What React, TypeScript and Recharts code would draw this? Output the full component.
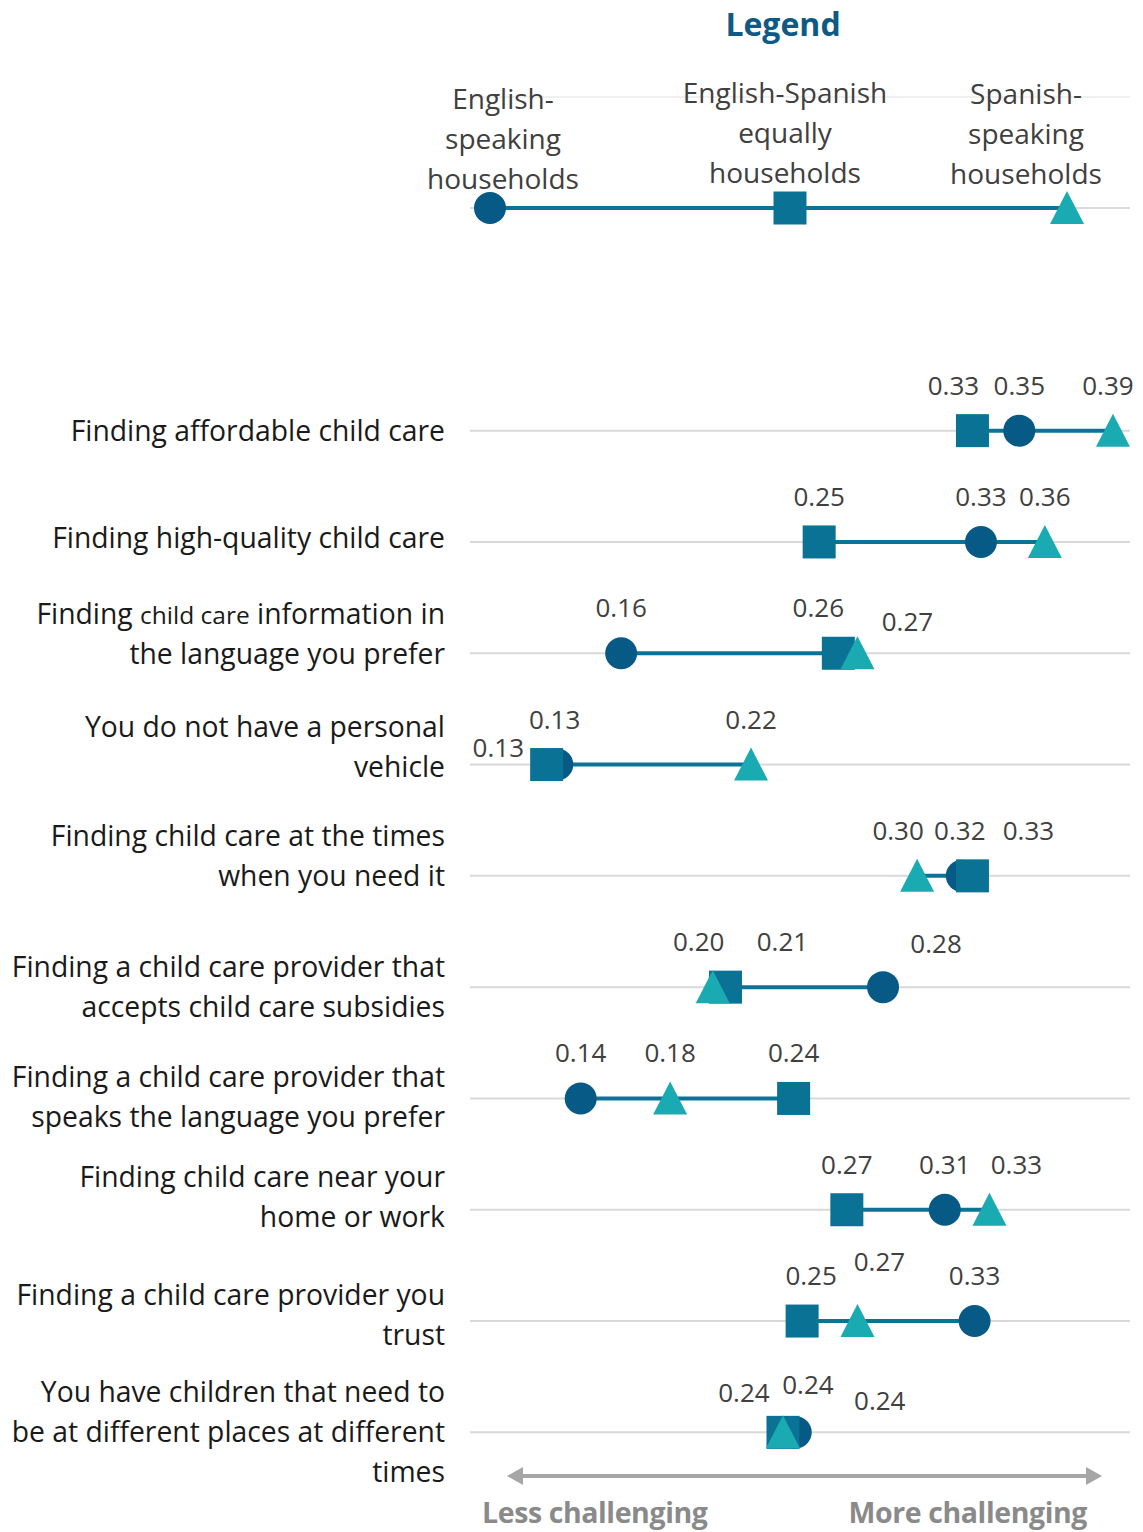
import React from "react";
import { ScatterChart, Scatter, XAxis, YAxis, CartesianGrid } from "recharts";

const CATEGORIES = [
  "Finding affordable child care",
  "Finding high-quality child care",
  "Finding {child care} information in\nthe language you prefer",
  "You do not have a personal\nvehicle",
  "Finding child care at the times\nwhen you need it",
  "Finding a child care provider that\naccepts child care subsidies",
  "Finding a child care provider that\nspeaks the language you prefer",
  "Finding child care near your\nhome or work",
  "Finding a child care provider you\ntrust",
  "You have children that need to\nbe at different places at different\ntimes",
];

const SERIES_NAMES = [
  "English-\nspeaking\nhouseholds",
  "English-Spanish\nequally\nhouseholds",
  "Spanish-\nspeaking\nhouseholds",
];

// share of respondents finding each item challenging
const ENGLISH = [0.348, 0.330, 0.161, 0.131, 0.321, 0.284, 0.142, 0.313, 0.327, 0.243];
const BILINGUAL = [0.326, 0.254, 0.263, 0.126, 0.326, 0.210, 0.242, 0.267, 0.246, 0.237];
const SPANISH = [0.392, 0.360, 0.272, 0.222, 0.300, 0.204, 0.184, 0.334, 0.272, 0.237];

const ROW_TICKS = [0, 1, 2, 3, 4, 5, 6, 7, 8, 9];
const AXIS_ENDS = ["Less challenging", "More challenging"];

const C_EN = "#065a85";
const C_BI = "#0a7395";
const C_SP = "#1aaab2";
const C_LINE = "#0d7396";
const FONT = '"Open Sans", sans-serif';

// label nudges [dx, dy] so overlapping values stay readable
const NUDGE_EN = [[0, 0], [0, 0], [0, 0], [-59, 28], [-2, 0], [53, 2], [0, 0], [0, 0], [0, 0], [84, 14]];
const NUDGE_BI = [[-19, 0], [0, 0], [-20, 0], [8, 0], [56, 0], [57, 0], [0, 0], [0, 0], [9, 0], [-39, 6]];
const NUDGE_SP = [[-5, 0], [0, 0], [50, 14], [0, 0], [-19, 0], [-14, 0], [0, 0], [27, 0], [22, -14], [25, -2]];
const TICK_SHIFT = [0, -4, -19, -18, -20, 0, -1, -13, -6, 0];

const toPoints = (vals: number[]) => vals.map((v, i) => ({ x: v, y: i }));

const valueLabel = (p: any, nudge: number[][]) => {
  const row = p.payload.y;
  const [dx, dy] = nudge[row];
  return (
    <text
      x={p.cx + dx}
      y={p.cy - 36 + dy}
      textAnchor="middle"
      fontSize={26}
      fill="#404040"
      fontFamily={FONT}
    >
      {p.payload.x.toFixed(2)}
    </text>
  );
};

const circleShape = (p: any) => (
  <g>
    <circle cx={p.cx} cy={p.cy} r={16} fill={C_EN} />
    {valueLabel(p, NUDGE_EN)}
  </g>
);

const squareShape = (p: any) => (
  <g>
    <rect x={p.cx - 16.5} y={p.cy - 16.5} width={33} height={33} fill={C_BI} />
    {valueLabel(p, NUDGE_BI)}
  </g>
);

const triangleShape = (p: any) => (
  <g>
    <polygon
      points={`${p.cx},${p.cy - 17} ${p.cx + 17},${p.cy + 16} ${p.cx - 17},${p.cy + 16}`}
      fill={C_SP}
    />
    {valueLabel(p, NUDGE_SP)}
  </g>
);

const renderLine = (line: string) =>
  line.split(/(\{[^}]*\})/).map((part, k) =>
    part.startsWith("{") ? (
      <tspan key={k} fontSize={24.5}>
        {part.slice(1, -1)}
      </tspan>
    ) : (
      <tspan key={k}>{part}</tspan>
    )
  );

const CategoryTick = (props: any) => {
  const row = props.payload.value;
  const lines = CATEGORIES[row].split("\n");
  const first = props.y + TICK_SHIFT[row] - (lines.length - 1) * 20 + 10;
  return (
    <text textAnchor="end" fontSize={28.3} fill="#1a1a1a" fontFamily={FONT}>
      {lines.map((ln, k) => (
        <tspan key={k} x={445} y={first + k * 40}>
          {renderLine(ln)}
        </tspan>
      ))}
    </text>
  );
};

function LegendBox() {
  const pos = [503, 785, 1026];
  const tops = [109, 103, 104];
  return (
    <svg
      width={1143}
      height={240}
      style={{ position: "absolute", left: 0, top: 0 }}
    >
      <text
        x={783}
        y={36}
        textAnchor="middle"
        fontSize={32}
        fontWeight="bold"
        fill="#0c5a85"
        fontFamily={FONT}
      >
        Legend
      </text>
      <line x1={470} x2={1130} y1={97} y2={97} stroke="#f0f0f0" strokeWidth={2} />
      <line x1={470} x2={1130} y1={208} y2={208} stroke="#d9d9d9" strokeWidth={2} />
      {SERIES_NAMES.map((name, i) => (
        <text
          key={i}
          textAnchor="middle"
          fontSize={28}
          fill="#404040"
          fontFamily={FONT}
        >
          {name.split("\n").map((ln, k) => (
            <tspan key={k} x={pos[i]} y={tops[i] + k * 40}>
              {ln}
            </tspan>
          ))}
        </text>
      ))}
      <line x1={490} x2={1067} y1={208} y2={208} stroke={C_LINE} strokeWidth={4} />
      <circle cx={490} cy={208} r={16} fill={C_EN} />
      <rect x={773.5} y={191.5} width={33} height={33} fill={C_BI} />
      <polygon points="1067,191 1084,224 1050,224" fill={C_SP} />
    </svg>
  );
}

function AxisArrow() {
  return (
    <svg
      width={1143}
      height={82}
      style={{ position: "absolute", left: 0, top: 1450 }}
    >
      <line x1={520} x2={1088} y1={26} y2={26} stroke="#a6a6a6" strokeWidth={4} />
      <polygon points="507,26 523,17 523,35" fill="#a6a6a6" />
      <polygon points="1102,26 1086,17 1086,35" fill="#a6a6a6" />
      <text x={482} y={73} fontSize={28.5} fontWeight="bold" fill="#8a8a8a" fontFamily={FONT} letterSpacing={-0.4}>
        {AXIS_ENDS[0]}
      </text>
      <text x={1087} y={73} textAnchor="end" fontSize={28.5} fontWeight="bold" fill="#8a8a8a" fontFamily={FONT} letterSpacing={-0.4}>
        {AXIS_ENDS[1]}
      </text>
    </svg>
  );
}

export default function App() {
  const rows = CATEGORIES.map((_, i) => {
    const vals = [ENGLISH[i], BILINGUAL[i], SPANISH[i]];
    return [
      { x: Math.min(...vals), y: i },
      { x: Math.max(...vals), y: i },
    ];
  });

  return (
    <div
      style={{
        position: "absolute",
        left: 0,
        top: 0,
        width: 1143,
        height: 1532,
        background: "#fff",
        fontFamily: FONT,
      }}
    >
      <ScatterChart
        width={1143}
        height={1532}
        margin={{ top: 375, right: 13, bottom: 44, left: 0 }}
        style={{ position: "absolute", left: 0, top: 0 }}
      >
        <CartesianGrid
          vertical={false}
          stroke="#d9d9d9"
          strokeWidth={2}
          horizontalCoordinatesGenerator={({ offset }: any) =>
            ROW_TICKS.map(
              (t) => offset.top + ((t + 0.5) / ROW_TICKS.length) * offset.height
            )
          }
        />
        <XAxis type="number" dataKey="x" domain={[0.09, 0.4]} hide />
        <YAxis
          type="number"
          dataKey="y"
          domain={[-0.5, 9.5]}
          ticks={ROW_TICKS}
          reversed
          width={470}
          axisLine={false}
          tickLine={false}
          tick={<CategoryTick />}
        />
        {rows.map((seg, i) => (
          <Scatter
            key={`seg-${i}`}
            data={seg}
            line={{ stroke: C_LINE, strokeWidth: 4 }}
            shape={() => <g />}
            isAnimationActive={false}
          />
        ))}
        <Scatter data={toPoints(ENGLISH)} shape={circleShape} isAnimationActive={false} />
        <Scatter data={toPoints(BILINGUAL)} shape={squareShape} isAnimationActive={false} />
        <Scatter data={toPoints(SPANISH)} shape={triangleShape} isAnimationActive={false} />
      </ScatterChart>
      <LegendBox />
      <AxisArrow />
    </div>
  );
}
